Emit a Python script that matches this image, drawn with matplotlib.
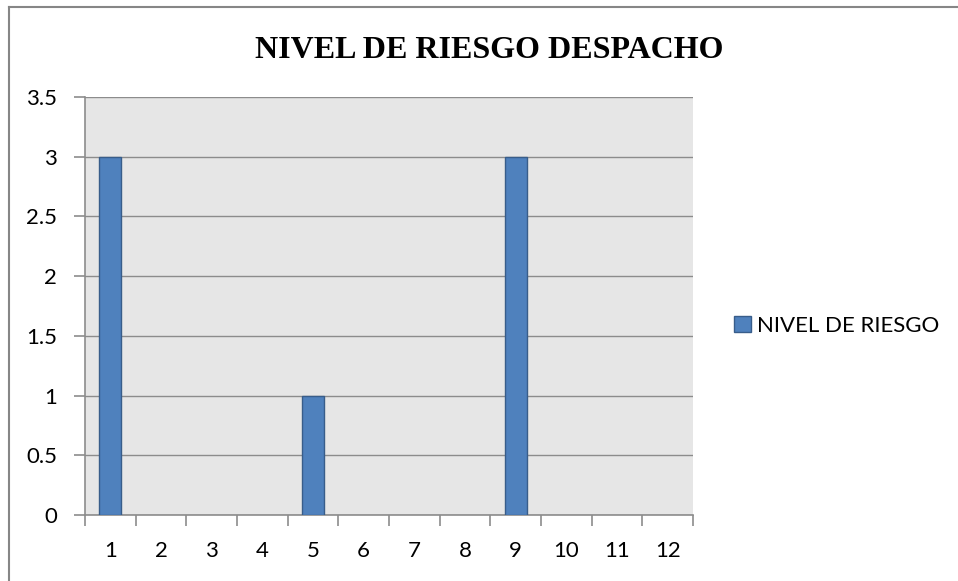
import matplotlib
matplotlib.use("Agg")
import matplotlib.pyplot as plt
from matplotlib.lines import Line2D
import numpy as np

categories = [str(i) for i in range(1, 13)]
values = [3, 0, 0, 0, 1, 0, 0, 0, 3, 0, 0, 0]
series_name = "NIVEL DE RIESGO"
title = "NIVEL DE RIESGO DESPACHO"
yticks = [0, 0.5, 1, 1.5, 2, 2.5, 3, 3.5]
ytick_labels = ["0", "0.5", "1", "1.5", "2", "2.5", "3", "3.5"]

W, H = 958, 581
fig = plt.figure(figsize=(W / 100, H / 100), dpi=100)
fig.patch.set_facecolor("white")

L, R, T, B = 85, 693, 97, 515
ax = fig.add_axes([L / W, 1 - B / H, (R - L) / W, (B - T) / H])
ax.set_facecolor("#E6E6E6")

x = np.arange(1, len(categories) + 1)
lws = [1.0 if v != 0 else 0.0 for v in values]
ax.bar(x, values, width=0.44, color="#4F81BD", edgecolor="#385D8A", linewidth=lws,
       label=series_name, zorder=3)

ax.set_xlim(0.5, len(categories) + 0.5)
ax.set_ylim(0, 3.5)
ax.set_yticks(yticks)
ax.set_yticklabels(ytick_labels)
ax.yaxis.grid(True, color="#8C8C8C", linewidth=1.0, zorder=1)
ax.set_axisbelow(True)

ax.set_xticks(x)
ax.set_xticklabels(categories)
ax.set_xticks(np.arange(0.5, len(categories) + 1, 1.0), minor=True)
ax.tick_params(axis="x", which="major", length=0, pad=19)
ax.tick_params(axis="x", which="minor", length=8, color="#8C8C8C", width=1.2)
ax.tick_params(axis="y", length=8, color="#8C8C8C", width=1.2, pad=12)

for lbl in ax.get_xticklabels() + ax.get_yticklabels():
    lbl.set_fontfamily("Lato")
    lbl.set_fontsize(16)
    lbl.set_color("black")

for s in ["top", "right"]:
    ax.spines[s].set_visible(False)
for s in ["left", "bottom"]:
    ax.spines[s].set_color("#8C8C8C")
    ax.spines[s].set_linewidth(1.2)

fig.text(489 / W, 1 - 50 / H, title, ha="center", va="center",
         fontfamily="Liberation Serif", fontweight="bold", fontsize=23)

leg = fig.legend(loc="center left", bbox_to_anchor=(734 / W, 1 - 326 / H),
                 frameon=False, handlelength=0.75, handleheight=0.75,
                 handletextpad=0.3, borderpad=0, borderaxespad=0,
                 prop={"family": "Lato", "size": 16})

# outer chart frame
fig.add_artist(Line2D([8.5 / W, 1], [1 - 6.5 / H, 1 - 6.5 / H], color="#868686", linewidth=1.5,
                      transform=fig.transFigure))
fig.add_artist(Line2D([8.5 / W, 8.5 / W], [0, 1 - 6.5 / H], color="#868686", linewidth=1.5,
                      transform=fig.transFigure))

fig.savefig("out.png", dpi=100)
